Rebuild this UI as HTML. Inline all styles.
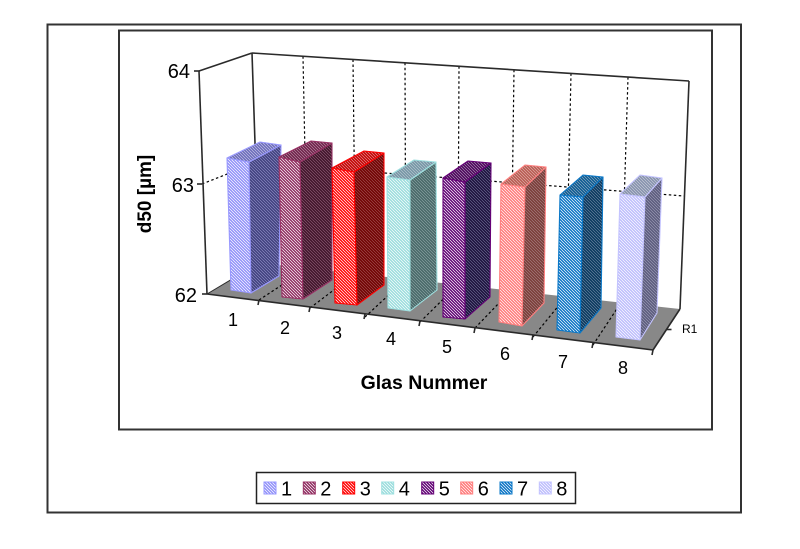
<!DOCTYPE html>
<html><head><meta charset="utf-8"><style>
html,body{margin:0;padding:0;background:#fff;}
svg{display:block;}
text{font-family:"Liberation Sans",Arial,sans-serif;fill:#000;}
</style></head><body>
<svg width="800" height="549" viewBox="0 0 800 549" xmlns="http://www.w3.org/2000/svg">
<defs>
<path id="st" d="M0,0H0.5L3,2.5V3H2.5L0,0.5Z M2.5,0H3V0.5Z M0,2.5V3H0.5Z"/>
<pattern id="f1" width="3" height="3" patternUnits="userSpaceOnUse"><rect width="3" height="3" fill="#8f8ff8"/><use href="#st" fill="#fff"/></pattern>
<pattern id="s1" width="3" height="3" patternUnits="userSpaceOnUse"><rect width="3" height="3" fill="#3e3e7c"/><use href="#st" fill="#8c8cc4"/></pattern>
<pattern id="t1" width="3" height="3" patternUnits="userSpaceOnUse"><rect width="3" height="3" fill="#6a6ab8"/><use href="#st" fill="#c4c4e8"/></pattern>
<pattern id="f2" width="3" height="3" patternUnits="userSpaceOnUse"><rect width="3" height="3" fill="#8e2a5e"/><use href="#st" fill="#fff"/></pattern>
<pattern id="s2" width="3" height="3" patternUnits="userSpaceOnUse"><rect width="3" height="3" fill="#3e1228"/><use href="#st" fill="#8a5a72"/></pattern>
<pattern id="t2" width="3" height="3" patternUnits="userSpaceOnUse"><rect width="3" height="3" fill="#6c2048"/><use href="#st" fill="#b88aa2"/></pattern>
<pattern id="f3" width="3" height="3" patternUnits="userSpaceOnUse"><rect width="3" height="3" fill="#ff0000"/><use href="#st" fill="#fff"/></pattern>
<pattern id="s3" width="3" height="3" patternUnits="userSpaceOnUse"><rect width="3" height="3" fill="#700000"/><use href="#st" fill="#a05050"/></pattern>
<pattern id="t3" width="3" height="3" patternUnits="userSpaceOnUse"><rect width="3" height="3" fill="#c00000"/><use href="#st" fill="#e89090"/></pattern>
<pattern id="f4" width="3" height="3" patternUnits="userSpaceOnUse"><rect width="3" height="3" fill="#98dcdc"/><use href="#st" fill="#fff"/></pattern>
<pattern id="s4" width="3" height="3" patternUnits="userSpaceOnUse"><rect width="3" height="3" fill="#466666"/><use href="#st" fill="#8aa4a4"/></pattern>
<pattern id="t4" width="3" height="3" patternUnits="userSpaceOnUse"><rect width="3" height="3" fill="#7494a4"/><use href="#st" fill="#b8c8d0"/></pattern>
<pattern id="f5" width="3" height="3" patternUnits="userSpaceOnUse"><rect width="3" height="3" fill="#5e0072"/><use href="#st" fill="#fff"/></pattern>
<pattern id="s5" width="3" height="3" patternUnits="userSpaceOnUse"><rect width="3" height="3" fill="#1a0e3a"/><use href="#st" fill="#6a6a90"/></pattern>
<pattern id="t5" width="3" height="3" patternUnits="userSpaceOnUse"><rect width="3" height="3" fill="#4a0058"/><use href="#st" fill="#a890b4"/></pattern>
<pattern id="f6" width="3" height="3" patternUnits="userSpaceOnUse"><rect width="3" height="3" fill="#ff7878"/><use href="#st" fill="#fff"/></pattern>
<pattern id="s6" width="3" height="3" patternUnits="userSpaceOnUse"><rect width="3" height="3" fill="#783a36"/><use href="#st" fill="#a88080"/></pattern>
<pattern id="t6" width="3" height="3" patternUnits="userSpaceOnUse"><rect width="3" height="3" fill="#b85850"/><use href="#st" fill="#e0b0a8"/></pattern>
<pattern id="f7" width="3" height="3" patternUnits="userSpaceOnUse"><rect width="3" height="3" fill="#0872c4"/><use href="#st" fill="#fff"/></pattern>
<pattern id="s7" width="3" height="3" patternUnits="userSpaceOnUse"><rect width="3" height="3" fill="#06365c"/><use href="#st" fill="#6a84a0"/></pattern>
<pattern id="t7" width="3" height="3" patternUnits="userSpaceOnUse"><rect width="3" height="3" fill="#085890"/><use href="#st" fill="#90acc4"/></pattern>
<pattern id="f8" width="3" height="3" patternUnits="userSpaceOnUse"><rect width="3" height="3" fill="#bcbcfc"/><use href="#st" fill="#fff"/></pattern>
<pattern id="s8" width="3" height="3" patternUnits="userSpaceOnUse"><rect width="3" height="3" fill="#5a5a7c"/><use href="#st" fill="#9a9ab4"/></pattern>
<pattern id="t8" width="3" height="3" patternUnits="userSpaceOnUse"><rect width="3" height="3" fill="#8490ac"/><use href="#st" fill="#c8ccd8"/></pattern>
</defs>

<!-- outer frame -->
<rect x="47.5" y="24.5" width="693.5" height="488" fill="#fff" stroke="#333" stroke-width="2"/>
<!-- plot area frame -->
<rect x="119" y="30.5" width="593" height="399" fill="#fff" stroke="#333" stroke-width="2"/>

<!-- walls -->
<polygon points="199,71 252,53 259,263 207,294" fill="#fff"/>
<polygon points="252,53 689,81 680,309 259,263" fill="#fff"/>
<!-- floor -->
<polygon points="207,294 259,263 680,309 653,350" fill="#888"/>

<!-- dotted gridlines -->
<g stroke="#000" stroke-width="1.2" stroke-dasharray="2.5,2.5" fill="none">
<line x1="202" y1="184" x2="255" y2="163"/>
<line x1="255" y1="163" x2="684" y2="196"/>
<line x1="303" y1="56.3" x2="307.3" y2="268.4"/>
<line x1="353" y1="59.5" x2="355.5" y2="273.6"/>
<line x1="405" y1="62.8" x2="405.7" y2="279.1"/>
<line x1="459" y1="66.3" x2="457.9" y2="284.8"/>
<line x1="514" y1="69.8" x2="511" y2="290.6"/>
<line x1="571" y1="73.4" x2="566" y2="296.6"/>
<line x1="628" y1="77.1" x2="621" y2="302.6"/>
<line x1="259" y1="300" x2="307.3" y2="268.4"/>
<line x1="310" y1="308" x2="355.5" y2="273.6"/>
<line x1="365" y1="317" x2="405.7" y2="279.1"/>
<line x1="420" y1="322" x2="457.9" y2="284.8"/>
<line x1="475" y1="328" x2="511" y2="290.6"/>
<line x1="533" y1="337" x2="566" y2="296.6"/>
<line x1="593" y1="345" x2="621" y2="302.6"/>
</g>

<!-- solid edges -->
<g stroke="#2a2a2a" stroke-width="1.6" fill="none" stroke-linejoin="round">
<line x1="199" y1="71" x2="207" y2="294"/>
<line x1="199" y1="71" x2="252" y2="53"/>
<line x1="252" y1="53" x2="259" y2="263"/>
<line x1="252" y1="53" x2="689" y2="81"/>
<line x1="689" y1="81" x2="680" y2="309"/>
<line x1="207" y1="294" x2="653" y2="350"/>
<line x1="653" y1="350" x2="680" y2="309"/>
<line x1="207" y1="294" x2="259" y2="263" stroke-width="1"/>
<line x1="194" y1="71" x2="199" y2="71"/>
<line x1="197" y1="184" x2="202" y2="184"/>
<line x1="202" y1="294" x2="207" y2="294"/>
<line x1="259" y1="300" x2="258" y2="305"/>
<line x1="310" y1="307" x2="309" y2="312"/>
<line x1="365" y1="314" x2="364" y2="319"/>
<line x1="420" y1="321" x2="419" y2="326"/>
<line x1="475" y1="328" x2="474" y2="333"/>
<line x1="533" y1="335" x2="532" y2="340"/>
<line x1="593" y1="343" x2="592" y2="348"/>
<line x1="653" y1="350" x2="652" y2="355"/>
<line x1="666.5" y1="329.5" x2="671.5" y2="329.5"/>
</g>

<!-- bars -->
<g stroke-width="1.1" stroke-linejoin="round">
<g stroke="#9999ff">
<polygon points="227,158 249,162 251,293 231,290" fill="url(#f1)"/>
<polygon points="249,162 281,145 279,276 251,293" fill="url(#s1)"/>
<polygon points="227,158 249,162 281,145 260,142" fill="url(#t1)"/>
</g>
<g stroke="#993366">
<polygon points="279,157 300,162 303,299 282,297" fill="url(#f2)"/>
<polygon points="300,162 332,143 332,280 303,299" fill="url(#s2)"/>
<polygon points="279,157 300,162 332,143 311,141" fill="url(#t2)"/>
</g>
<g stroke="#ff0000">
<polygon points="332,168 354,172 357,305 335,303" fill="url(#f3)"/>
<polygon points="354,172 384,153 384,285 357,305" fill="url(#s3)"/>
<polygon points="332,168 354,172 384,153 364,151" fill="url(#t3)"/>
</g>
<g stroke="#9fe0e0">
<polygon points="387,177 410,180 410,311 388,308" fill="url(#f4)"/>
<polygon points="410,180 436,162 437,290 410,311" fill="url(#s4)"/>
<polygon points="387,177 410,180 436,162 414,160" fill="url(#t4)"/>
</g>
<g stroke="#660077">
<polygon points="443,178 465,182 465,319 443,317" fill="url(#f5)"/>
<polygon points="465,182 491,163 490,297 465,319" fill="url(#s5)"/>
<polygon points="443,178 465,182 491,163 468,161" fill="url(#t5)"/>
</g>
<g stroke="#ff8080">
<polygon points="501,184 525,187 522,326 499,322" fill="url(#f6)"/>
<polygon points="525,187 546,167 544,303 522,326" fill="url(#s6)"/>
<polygon points="501,184 525,187 546,167 525,165" fill="url(#t6)"/>
</g>
<g stroke="#0a78c8">
<polygon points="560,195 583,197 580,333 557,330" fill="url(#f7)"/>
<polygon points="583,197 603,177 601,308 580,333" fill="url(#s7)"/>
<polygon points="560,195 583,197 603,177 583,175" fill="url(#t7)"/>
</g>
<g stroke="#c4c4ff">
<polygon points="620,194 645,197 640,340 616,337" fill="url(#f8)"/>
<polygon points="645,197 662,178 657,313 640,340" fill="url(#s8)"/>
<polygon points="620,194 645,197 662,178 640,175" fill="url(#t8)"/>
</g>
</g>

<!-- value axis labels -->
<g font-size="20" text-anchor="end">
<text x="190" y="78">64</text>
<text x="194" y="192">63</text>
<text x="197" y="302">62</text>
</g>
<!-- category labels -->
<g font-size="18" text-anchor="middle">
<text x="233" y="326">1</text>
<text x="285" y="334">2</text>
<text x="337" y="339">3</text>
<text x="391" y="345">4</text>
<text x="447" y="353">5</text>
<text x="505" y="360">6</text>
<text x="563" y="368">7</text>
<text x="623" y="374">8</text>
</g>
<text x="682" y="333" font-size="12">R1</text>

<!-- axis titles -->
<text x="424" y="389" font-size="19.5" font-weight="bold" text-anchor="middle">Glas Nummer</text>
<text transform="translate(151,194) rotate(-90)" font-size="19" font-weight="bold" text-anchor="middle">d50 [µm]</text>

<!-- legend -->
<rect x="256.5" y="472.5" width="319" height="31" fill="#fff" stroke="#222" stroke-width="1.5"/>
<g stroke-width="1">
<rect x="264" y="482" width="12" height="12" fill="url(#f1)" stroke="#9999ff"/>
<rect x="303.3" y="482" width="12" height="12" fill="url(#f2)" stroke="#993366"/>
<rect x="342.7" y="482" width="12" height="12" fill="url(#f3)" stroke="#ff0000"/>
<rect x="381.7" y="482" width="12" height="12" fill="url(#f4)" stroke="#9fe0e0"/>
<rect x="421.7" y="482" width="12" height="12" fill="url(#f5)" stroke="#660077"/>
<rect x="460.7" y="482" width="12" height="12" fill="url(#f6)" stroke="#ff8080"/>
<rect x="500" y="482" width="12" height="12" fill="url(#f7)" stroke="#0a78c8"/>
<rect x="539.3" y="482" width="12" height="12" fill="url(#f8)" stroke="#c4c4ff"/>
</g>
<g font-size="20">
<text x="281" y="495.5">1</text>
<text x="320.3" y="495.5">2</text>
<text x="359.7" y="495.5">3</text>
<text x="398.7" y="495.5">4</text>
<text x="438.7" y="495.5">5</text>
<text x="477.7" y="495.5">6</text>
<text x="517" y="495.5">7</text>
<text x="556.3" y="495.5">8</text>
</g>
</svg>
</body></html>
